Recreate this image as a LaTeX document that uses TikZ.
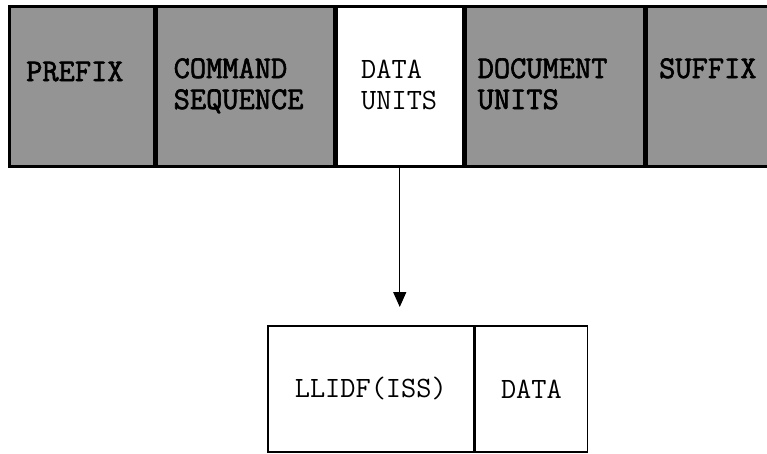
\documentclass[tikz,border=0pt]{standalone}
\usepackage{fontspec}
\newfontfamily\heavytt[FakeBold=2]{Latin Modern Mono}
\usetikzlibrary{positioning,arrows.meta}

\begin{document}
\begin{tikzpicture}[x=1pt, y=-1pt,
	cell/.style    = {draw, line width=2.5pt, inner sep=0pt, minimum height=160pt},
	shaded/.style  = {cell, fill=black!42},
	open/.style    = {cell, fill=white},
	lower/.style   = {draw, line width=1.6pt, inner sep=0pt, minimum height=126pt,
	                  font=\fontsize{29.5}{31}\selectfont\ttfamily},
	boldlbl/.style = {anchor=base west, inner sep=0pt, align=left,
	                  font=\fontsize{31.5}{31}\selectfont\heavytt},
	thinlbl/.style = {anchor=base west, inner sep=0pt, align=left,
	                  font=\fontsize{29.5}{31}\selectfont\ttfamily},
	>={Triangle[length=15pt,width=13pt]}]

	\useasboundingbox (0,0) rectangle (767,453);

	% the message, one cell after the other
	\node[shaded, minimum width=145pt, anchor=north west] (prefix) at (8,5) {};
	\node[shaded, minimum width=177pt, right=0pt of prefix] (command) {};
	\node[open,   minimum width=127pt, right=0pt of command] (dataunits) {};
	\node[shaded, minimum width=178pt, right=0pt of dataunits] (document) {};
	\node[shaded, minimum width=133pt, right=0pt of document] (suffix) {};

	% texts of the cells (base = last line)
	\node[boldlbl] (prefixtxt)  at ([shift={(18,76)}]prefix.north west) {PREFIX};
	\node[boldlbl] (commandtxt) at ([shift={(18,104)}]command.north west) {COMMAND\\SEQUENCE};
	\node[thinlbl] (datatxt)    at ([shift={(26,104)}]dataunits.north west) {DATA\\UNITS};
	\node[boldlbl] (doctxt)     at ([shift={(13,104)}]document.north west) {DOCUMENT\\UNITS};
	\node[boldlbl] (suffixtxt)  at ([shift={(14,73)}]suffix.north west) {SUFFIX};

	% the data unit, broken up
	\node[lower, minimum width=206pt, anchor=north west] (iss) at (267,325) {LLIDF(ISS)};
	\node[lower, minimum width=112pt, right=0pt of iss] (data) {DATA};

	\coordinate (arrowend) at ([yshift=18pt]dataunits.south |- iss.north);
	\draw[->, line width=1.4pt] (dataunits.south) -- (arrowend);

\end{tikzpicture}
\end{document}
